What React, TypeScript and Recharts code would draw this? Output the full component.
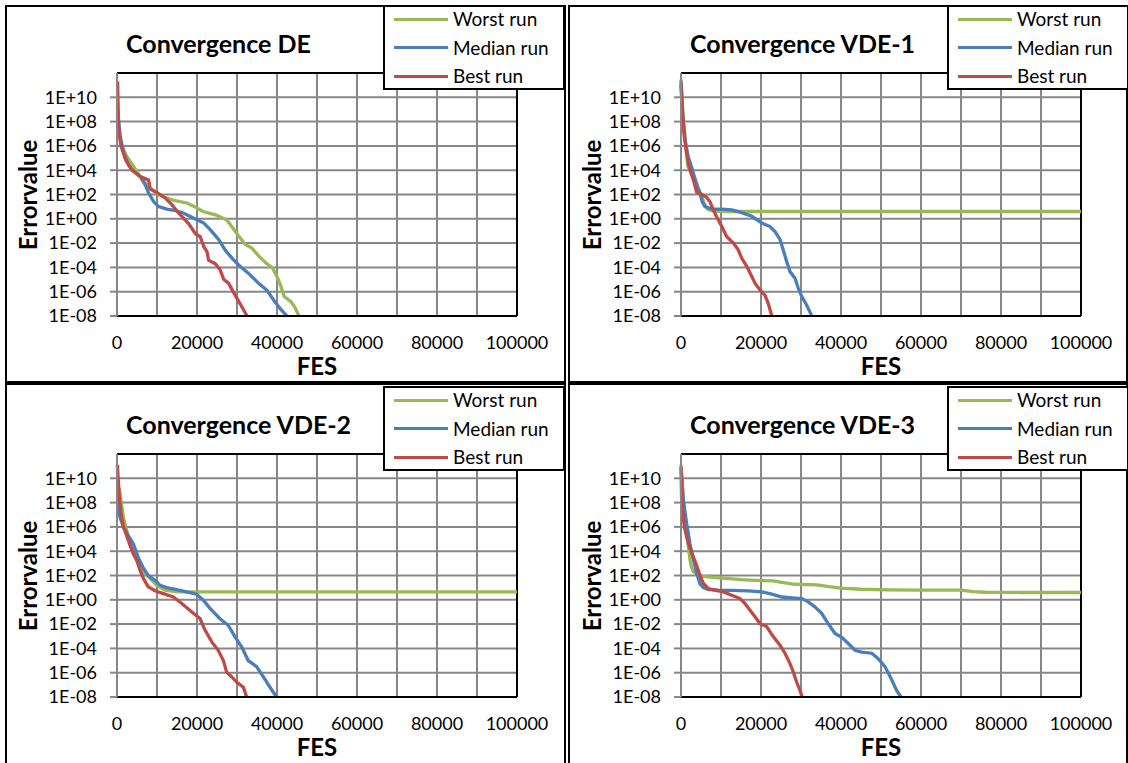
import { LineChart, Line, XAxis, YAxis, CartesianGrid, ReferenceLine } from 'recharts';

type Pt = [number, number];

// [FES, error value] pairs for each run
const deWorst: Pt[] = [
  [100, 3e8], [600, 1e7], [1250, 9e5], [2500, 1.3e5], [4200, 2e4], [5800, 3e3], [8300, 3e2],
  [10400, 1e2], [12500, 5e1], [13900, 3.5e1], [17500, 2e1], [19400, 1e1], [21500, 4],
  [24800, 2], [27500, 0.8], [28800, 0.2], [30000, 0.06], [32000, 8e-3], [33700, 4e-3],
  [35500, 8e-4], [37300, 2.2e-4], [38800, 1e-4], [40000, 1.7e-5], [40800, 4e-6],
  [41800, 4e-7], [43500, 1.5e-7], [44500, 5e-8], [45500, 1e-8],
];
const deMedian: Pt[] = [
  [100, 1.5e9], [800, 6e6], [1700, 2.5e5], [2900, 2.5e4], [4200, 8e3], [5800, 3e3], [7100, 6e2],
  [7900, 1.3e2], [9200, 2.5e1], [10400, 1e1], [12500, 6.3], [14600, 4.8], [16700, 2.9],
  [19200, 1.1], [21700, 0.44], [23300, 0.13], [25400, 0.02], [27100, 2.5e-3], [28800, 5.6e-4],
  [30400, 1.6e-4], [32900, 3.2e-5], [35400, 5e-6], [37500, 1.3e-6], [39200, 2e-7],
  [40800, 4e-8], [42500, 1e-8],
];
const deBest: Pt[] = [
  [150, 2e11], [400, 2e7], [1000, 1e6], [2100, 8e4], [3750, 1e4], [5800, 3e3], [7900, 1.6e3],
  [8300, 3e2], [10400, 1.2e2], [12100, 5e1], [13750, 1.4e1], [15400, 3], [17900, 0.4],
  [19600, 0.06], [20800, 0.035], [21700, 5e-3], [22500, 2e-3], [22900, 4e-4], [24600, 2e-4],
  [25800, 6e-5], [26700, 1e-5], [27900, 5e-6], [29200, 8e-7], [30800, 1e-7], [32500, 1e-8],
];

const vde1Worst: Pt[] = [
  [0, 3e11], [400, 1e9], [1700, 2e4], [3300, 3e3], [4800, 1.3e2], [5800, 2e1], [6700, 6],
  [8000, 4.3], [12000, 4], [100000, 4],
];
const vde1Median: Pt[] = [
  [0, 2e11], [330, 2e9], [580, 8e7], [1000, 3e6], [1800, 1.3e5], [2700, 1.6e4], [3300, 3e3],
  [3900, 6e2], [4750, 1.3e2], [5300, 2.5e1], [6000, 1e1], [7700, 6.3], [10200, 6.3],
  [12700, 5.5], [15200, 3.2], [17700, 1.6], [20200, 0.44], [22250, 0.23], [23500, 0.09],
  [24750, 0.02], [25600, 2.5e-3], [26400, 3.2e-4], [27250, 4.5e-5], [28500, 1.3e-5],
  [29300, 2e-6], [30200, 4e-7], [31400, 8e-8], [32700, 1e-8],
];
const vde1Best: Pt[] = [
  [0, 1e11], [330, 5e8], [830, 6e6], [1400, 2.5e5], [2250, 1e4], [3100, 1.6e3], [3900, 1.6e2],
  [5200, 1e2], [6400, 6e1], [7250, 2.5e1], [8100, 5.5], [8900, 1.5], [10200, 0.23],
  [11400, 0.035], [13100, 0.01], [14300, 2.8e-3], [15200, 5.6e-4], [16400, 1.3e-4],
  [17700, 1.8e-5], [18500, 5e-6], [19750, 1.4e-6], [21000, 5e-7], [21800, 1.1e-7], [22700, 1e-8],
];

const vde2Worst: Pt[] = [
  [100, 3e9], [600, 1.3e9], [1600, 6e6], [2800, 1.6e5], [4100, 6e3], [5300, 1e3], [6600, 2e2],
  [8300, 5.6e1], [9900, 1.6e1], [12000, 6.3], [15000, 4.5], [17500, 4.5], [100000, 4.5],
];
const vde2Median: Pt[] = [
  [100, 1.5e8], [750, 6e6], [1600, 1e6], [2800, 2e5], [4100, 4e4], [5300, 3e3], [6600, 4e2],
  [7800, 1e2], [9500, 4e1], [10750, 1.6e1], [12400, 1e1], [14900, 7], [17400, 4.5],
  [19900, 2.9], [21600, 0.93], [23250, 0.2], [25750, 0.028], [27800, 8e-3], [29500, 9e-4],
  [31200, 1.3e-4], [32800, 1e-5], [34900, 3.2e-6], [36600, 4.5e-7], [38250, 6.3e-8], [39900, 1e-8],
];
const vde2Best: Pt[] = [
  [100, 1.3e11], [500, 5.6e8], [1000, 1.3e7], [1600, 1e6], [2400, 2e5], [3250, 3.2e4],
  [4100, 6e3], [4900, 2e3], [5750, 2.8e2], [6600, 5.6e1], [7800, 1.2e1], [9500, 5.6],
  [11600, 3.2], [14100, 1.7], [16200, 0.5], [18700, 0.1], [20750, 0.029], [22000, 3.2e-3],
  [23700, 3.4e-4], [25300, 7e-5], [26600, 1e-5], [27400, 1.1e-6], [28700, 4.5e-7],
  [29900, 1.7e-7], [31600, 6.3e-8], [32400, 1e-8],
];

const vde3Worst: Pt[] = [
  [0, 1.3e11], [580, 1.6e8], [1400, 3e5], [2250, 2e3], [2600, 5e2], [3100, 2e2], [5200, 8.7e1],
  [8500, 6.8e1], [12000, 5.6e1], [15000, 4.5e1], [18500, 4e1], [23000, 3.6e1], [26000, 2.5e1],
  [28500, 1.9e1], [34000, 1.7e1], [37000, 1.2e1], [40000, 9], [45000, 7.4], [52000, 6.6],
  [60000, 6.3], [70000, 6.2], [73000, 4.8], [76000, 4.2], [85000, 4], [100000, 4],
];
const vde3Median: Pt[] = [
  [100, 3e10], [580, 1.6e8], [1400, 2e6], [2250, 4e4], [3100, 2e3], [3900, 1.6e2], [4750, 2e1],
  [5600, 1e1], [6800, 7], [9300, 6.3], [12700, 5.9], [16800, 5.5], [20200, 4.5], [22700, 2.9],
  [25200, 1.7], [27700, 1.45], [30200, 1.26], [31800, 0.68], [33500, 0.26], [35200, 0.074],
  [36800, 0.011], [38500, 1.7e-3], [40200, 8e-4], [41800, 2.5e-4], [43500, 7e-5], [45200, 5e-5],
  [47700, 4e-5], [49300, 1.4e-5], [51000, 3.2e-6], [52700, 2.5e-7], [53900, 3.5e-8], [55000, 1e-8],
];
const vde3Best: Pt[] = [
  [0, 9e10], [170, 1e8], [500, 1e7], [830, 1e6], [1400, 1.6e5], [2250, 1.6e4], [3100, 3.2e3],
  [3900, 7e2], [4750, 1e2], [5600, 2.2e1], [6800, 8.5], [8500, 6.3], [10600, 4.5], [12700, 2.4],
  [14750, 1.26], [16000, 0.5], [17250, 0.14], [18500, 0.04], [19750, 0.011], [21400, 6.3e-3],
  [23100, 9e-4], [24750, 1.8e-4], [26000, 4e-5], [27250, 5.6e-6], [28100, 1.1e-6],
  [28900, 1.7e-7], [29750, 3.5e-8], [30300, 1e-8],
];

const seriesNames = ['Worst run', 'Median run', 'Best run'];
const seriesColors = ['#98B954', '#4A7EBB', '#BE4B48'];
const titles = ['Convergence DE', 'Convergence VDE-1', 'Convergence VDE-2', 'Convergence VDE-3'];
const xTicks = [0, 10000, 20000, 30000, 40000, 50000, 60000, 70000, 80000, 90000, 100000];
const yTicks = [1e-8, 1e-6, 1e-4, 1e-2, 1, 1e2, 1e4, 1e6, 1e8, 1e10];

const panels = [
  { title: titles[0], runs: [deWorst, deMedian, deBest], left: 0, top: 0 },
  { title: titles[1], runs: [vde1Worst, vde1Median, vde1Best], left: 564, top: 0 },
  { title: titles[2], runs: [vde2Worst, vde2Median, vde2Best], left: 0, top: 381 },
  { title: titles[3], runs: [vde3Worst, vde3Median, vde3Best], left: 564, top: 381 },
];

const FONT = "Lato, 'Liberation Sans', sans-serif";
const GRID = '#878787';

const fmtErr = (v: number) => {
  const e = Math.round(Math.log10(v));
  return `1E${e < 0 ? '-' : '+'}${String(Math.abs(e)).padStart(2, '0')}`;
};
const fmtFes = (v: number) => (v % 20000 === 0 ? String(v) : '');

function Panel({ title, runs, left, top }: { title: string; runs: Pt[][]; left: number; top: number }) {
  return (
    <div style={{ position: 'absolute', left, top, width: 564, height: 381 }}>
      <LineChart width={564} height={381} margin={{ top: 73, right: 47, bottom: 25, left: 0 }}>
        <CartesianGrid stroke={GRID} strokeWidth={2} />
        <XAxis
          type="number"
          dataKey="fes"
          domain={[0, 100000]}
          ticks={xTicks}
          interval={0}
          tickFormatter={fmtFes}
          tickLine={false}
          tickSize={6}
          tickMargin={14}
          height={40}
          axisLine={{ stroke: '#000', strokeWidth: 2 }}
          tick={{ fill: '#000', fontSize: 18, fontFamily: FONT }}
        />
        <YAxis
          type="number"
          scale="log"
          domain={[1e-8, 1e12]}
          allowDataOverflow
          ticks={yTicks}
          interval={0}
          tickFormatter={fmtErr}
          width={117}
          tickSize={7}
          tickMargin={13}
          tickLine={{ stroke: GRID, strokeWidth: 2 }}
          axisLine={{ stroke: GRID, strokeWidth: 2 }}
          tick={{ fill: '#000', fontSize: 18, fontFamily: FONT }}
        />
        <ReferenceLine y={1e12} stroke="#000" strokeWidth={2} />
        <ReferenceLine x={100000} stroke="#000" strokeWidth={2} />
        {runs.map((pts, i) => (
          <Line
            key={seriesNames[i]}
            name={seriesNames[i]}
            data={pts.map(([fes, err]) => ({ fes, err }))}
            dataKey="err"
            type="linear"
            stroke={seriesColors[i]}
            strokeWidth={3.3}
            dot={false}
            isAnimationActive={false}
          />
        ))}
      </LineChart>

      <div style={{ position: 'absolute', left: 126, top: 28, height: 30, lineHeight: '30px', fontSize: 25, fontWeight: 700, whiteSpace: 'nowrap' }}>
        {title}
      </div>
      <div style={{ position: 'absolute', left: 27, top: 194.5, transform: 'translate(-50%, -50%) rotate(-90deg)', fontSize: 24, fontWeight: 700, whiteSpace: 'nowrap' }}>
        Errorvalue
      </div>
      <div style={{ position: 'absolute', left: 317, top: 365, transform: 'translate(-50%, -50%)', fontSize: 24, fontWeight: 700 }}>
        FES
      </div>

      <div style={{ position: 'absolute', left: 383, top: 5, width: 182, height: 85, boxSizing: 'border-box', border: '2px solid #000', background: '#fff' }}>
        {seriesNames.map((name, i) => (
          <div key={name} style={{ position: 'absolute', left: 9, top: 12 + 28.5 * i - 14, height: 28, display: 'flex', alignItems: 'center', whiteSpace: 'nowrap' }}>
            <span style={{ display: 'inline-block', width: 54, height: 3, background: seriesColors[i] }} />
            <span style={{ marginLeft: 5, fontSize: 19, lineHeight: '28px' }}>{name}</span>
          </div>
        ))}
      </div>
    </div>
  );
}

export default function App() {
  const frame = { position: 'absolute' as const, boxSizing: 'border-box' as const, border: '2px solid #000' };
  return (
    <div style={{ position: 'absolute', left: 0, top: 0, width: 1128, height: 763, overflow: 'hidden', background: '#fff', fontFamily: FONT, color: '#000' }}>
      <div style={{ ...frame, left: 5, top: 5, width: 561, height: 378 }} />
      <div style={{ ...frame, left: 568, top: 5, width: 560, height: 378 }} />
      <div style={{ ...frame, left: 5, top: 383, width: 561, height: 390 }} />
      <div style={{ ...frame, left: 568, top: 383, width: 560, height: 390 }} />
      {panels.map((p) => (
        <Panel key={p.title} {...p} />
      ))}
    </div>
  );
}
